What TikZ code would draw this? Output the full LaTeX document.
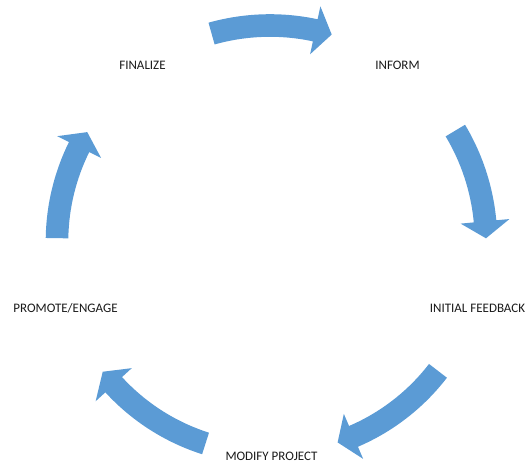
\documentclass[tikz,border=0pt]{standalone}
\usepackage{fontspec}
\setmainfont{Carlito}
\usetikzlibrary{calc}
\definecolor{cycblue}{HTML}{5B9BD5}
\definecolor{labgray}{HTML}{1A1A1A}
\tikzset{
  cyclabel/.style={anchor=base, inner sep=0pt, text=labgray, font=\fontsize{13}{15}\selectfont},
  cycshape/.style={fill=cycblue, draw=none}
}
% \cycarr{tail angle}{tip angle}{mid radius}
\newcommand{\cycarr}[3]{%
  \pgfmathsetmacro{\cwA}{#1}%
  \pgfmathsetmacro{\cwT}{#2}%
  \pgfmathsetmacro{\cwR}{#3}%
  \pgfmathsetmacro{\cwB}{#2+17/#3*57.2958}%
  \pgfmathsetmacro{\cwRo}{#3+11.3}%
  \pgfmathsetmacro{\cwRi}{#3-11.3}%
  \pgfmathsetmacro{\cwHo}{#3+24.5}%
  \pgfmathsetmacro{\cwHi}{#3-24.5}%
  \fill[cycshape] ($(C)+(\cwA:\cwRo)$) arc[start angle=\cwA, end angle=\cwB, radius=\cwRo]
    -- ($(C)+(\cwB:\cwHo)$) -- ($(C)+(\cwT:\cwR)$) -- ($(C)+(\cwB:\cwHi)$)
    -- ($(C)+(\cwB:\cwRi)$) arc[start angle=\cwB, end angle=\cwA, radius=\cwRi] -- cycle;%
}
\begin{document}
\begin{tikzpicture}[x=1pt,y=1pt]
\useasboundingbox (0,0) rectangle (529,464);
\coordinate (C) at (270,222.5);
% arrows (clockwise)
\cycarr{105.7}{73.4}{216}
\cycarr{30.9}{0.85}{216}
\cycarr{-37.6}{-71.4}{212}
\cycarr{-107.7}{-142.1}{212}
\cycarr{179.1}{149.1}{213}
% labels
\node[cyclabel] (fin) at (142.5,394) {FINALIZE};
\node[cyclabel] (inf) at (397.5,394) {INFORM};
\node[cyclabel] (ini) at (477.5,151.7) {INITIAL FEEDBACK};
\node[cyclabel] (mod) at (271.5,4) {MODIFY PROJECT};
\node[cyclabel] (pro) at (65.5,151.7) {PROMOTE/ENGAGE};
\end{tikzpicture}
\end{document}
